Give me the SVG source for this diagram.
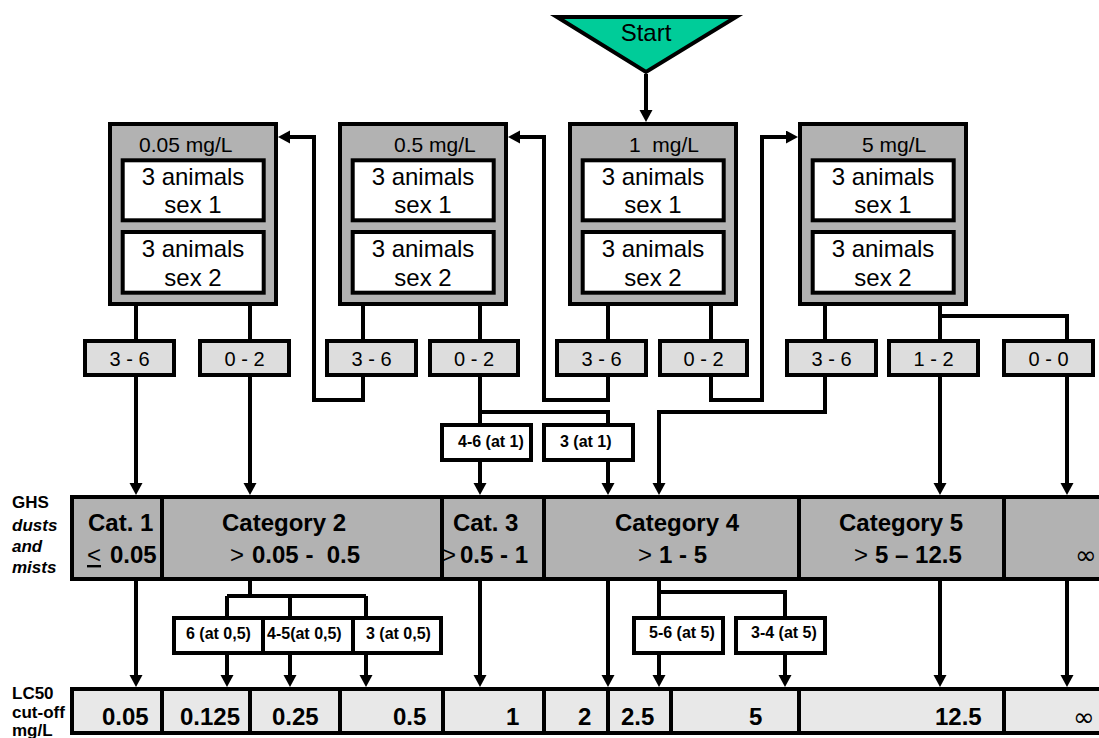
<svg xmlns="http://www.w3.org/2000/svg" width="1099" height="738" viewBox="0 0 1099 738">
<defs>
<marker id="ah" markerUnits="userSpaceOnUse" markerWidth="13" markerHeight="14" refX="1" refY="6.5" orient="auto" viewBox="0 0 13 14">
<path d="M0,0 L12,6.5 L0,13 z" fill="#000"/>
</marker>
<style>
text{font-family:"Liberation Sans",Arial,sans-serif;fill:#000}
.box{fill:#B2B2B2;stroke:#000;stroke-width:4}
.inner{fill:#fff;stroke:#000;stroke-width:4}
.mg{font-size:21px}
.an{font-size:24px;text-anchor:middle}
.score{fill:#DDDDDD;stroke:#000;stroke-width:4}
.st{font-size:20px;text-anchor:middle}
.res{fill:#fff;stroke:#000;stroke-width:4}
.rt{font-size:16px;font-weight:bold}
.ghs{fill:#B2B2B2;stroke:#000;stroke-width:4}
.lc{fill:#E8E8E8;stroke:#000;stroke-width:4}
.cat{font-size:24px;font-weight:bold}
.inf{font-family:"DejaVu Sans",sans-serif;font-size:26px;font-weight:normal}
.lbl{font-size:17px;font-weight:bold}
.it{font-style:italic}
.conn path{fill:none;stroke:#000;stroke-width:4}
.arr{marker-end:url(#ah)}
</style>
</defs>

<g id="start">
<polygon points="557,17 736,17 646,72" fill="#00CC99" stroke="#000" stroke-width="4"/>
<text x="646" y="41" font-size="24" text-anchor="middle">Start</text>
</g>

<g id="node-005" transform="translate(108,122)">
<rect class="box" x="2" y="2" width="166" height="180"/>
<rect class="inner" x="14.7" y="38.3" width="141" height="60"/>
<rect class="inner" x="14.7" y="110" width="141" height="60.7"/>
<text class="mg" x="31" y="30">0.05 mg/L</text>
<text class="an" x="85" y="63">3 animals</text>
<text class="an" x="85" y="91">sex 1</text>
<text class="an" x="85" y="135">3 animals</text>
<text class="an" x="85" y="164">sex 2</text>
</g>
<g id="node-05" transform="translate(338,122)">
<rect class="box" x="2" y="2" width="166" height="180"/>
<rect class="inner" x="14.7" y="38.3" width="141" height="60"/>
<rect class="inner" x="14.7" y="110" width="141" height="60.7"/>
<text class="mg" x="56" y="30">0.5 mg/L</text>
<text class="an" x="85" y="63">3 animals</text>
<text class="an" x="85" y="91">sex 1</text>
<text class="an" x="85" y="135">3 animals</text>
<text class="an" x="85" y="164">sex 2</text>
</g>
<g id="node-1" transform="translate(568,122)">
<rect class="box" x="2" y="2" width="166" height="180"/>
<rect class="inner" x="14.7" y="38.3" width="141" height="60"/>
<rect class="inner" x="14.7" y="110" width="141" height="60.7"/>
<text class="mg" x="61" y="30" xml:space="preserve">1  mg/L</text>
<text class="an" x="85" y="63">3 animals</text>
<text class="an" x="85" y="91">sex 1</text>
<text class="an" x="85" y="135">3 animals</text>
<text class="an" x="85" y="164">sex 2</text>
</g>
<g id="node-5" transform="translate(798,122)">
<rect class="box" x="2" y="2" width="166" height="180"/>
<rect class="inner" x="14.7" y="38.3" width="141" height="60"/>
<rect class="inner" x="14.7" y="110" width="141" height="60.7"/>
<text class="mg" x="64" y="30">5 mg/L</text>
<text class="an" x="85" y="63">3 animals</text>
<text class="an" x="85" y="91">sex 1</text>
<text class="an" x="85" y="135">3 animals</text>
<text class="an" x="85" y="164">sex 2</text>
</g>

<g id="scores">
<g id="s1"><rect class="score" x="85" y="341" width="89" height="34"/><text class="st" x="129.5" y="366">3 - 6</text></g>
<g id="s2"><rect class="score" x="200" y="341" width="89" height="34"/><text class="st" x="244.5" y="366">0 - 2</text></g>
<g id="s3"><rect class="score" x="327" y="341" width="89" height="34"/><text class="st" x="371.5" y="366">3 - 6</text></g>
<g id="s4"><rect class="score" x="430" y="341" width="88" height="34"/><text class="st" x="474" y="366">0 - 2</text></g>
<g id="s5"><rect class="score" x="557" y="341" width="89" height="34"/><text class="st" x="601.5" y="366">3 - 6</text></g>
<g id="s6"><rect class="score" x="660" y="341" width="87" height="34"/><text class="st" x="703.5" y="366">0 - 2</text></g>
<g id="s7"><rect class="score" x="787" y="341" width="89" height="34"/><text class="st" x="831.5" y="366">3 - 6</text></g>
<g id="s8"><rect class="score" x="889" y="341" width="89" height="34"/><text class="st" x="933.5" y="366">1 - 2</text></g>
<g id="s9"><rect class="score" x="1004" y="341" width="89" height="34"/><text class="st" x="1048.5" y="366">0 - 0</text></g>
</g>

<g id="res-at1">
<g id="r46at1"><rect class="res" x="442" y="425" width="89" height="35"/><text class="rt" x="458" y="447">4-6 (at 1)</text></g>
<g id="r3at1"><rect class="res" x="544" y="425" width="89" height="35"/><text class="rt" x="560" y="447">3 (at 1)</text></g>
</g>

<g id="ghs-row">
<rect class="ghs" x="72" y="497" width="1040" height="82"/>
<path d="M162,495V581M442,495V581M544,495V581M799,495V581M1004,495V581" stroke="#000" stroke-width="4"/>
<text class="cat" x="88" y="531">Cat. 1</text>
<text class="cat" x="87" y="563"><tspan font-weight="normal" text-decoration="underline">&lt;</tspan><tspan x="110">0.05</tspan></text>
<text class="cat" x="222" y="531">Category 2</text>
<text class="cat" x="230" y="563" xml:space="preserve"><tspan font-weight="normal">&gt;</tspan><tspan x="252">0.05 -  0.5</tspan></text>
<text class="cat" x="453" y="531">Cat. 3</text>
<text class="cat" x="442" y="563"><tspan font-weight="normal">&gt;</tspan><tspan x="460">0.5 - 1</tspan></text>
<text class="cat" x="615" y="531">Category 4</text>
<text class="cat" x="638" y="563"><tspan font-weight="normal">&gt;</tspan><tspan x="659">1 - 5</tspan></text>
<text class="cat" x="839" y="531">Category 5</text>
<text class="cat" x="854" y="563"><tspan font-weight="normal">&gt;</tspan><tspan x="875">5 – 12.5</tspan></text>
<text class="inf" x="1075" y="564">∞</text>
</g>

<g id="labels">
<text class="lbl" x="12" y="508">GHS</text>
<text class="lbl it" x="12" y="531">dusts</text>
<text class="lbl it" x="12" y="552">and</text>
<text class="lbl it" x="12" y="573">mists</text>
<text class="lbl" x="12" y="699">LC50</text>
<text class="lbl" x="12" y="718">cut-off</text>
<text class="lbl" x="12" y="736">mg/L</text>
</g>

<g id="res-at05">
<g id="r6"><rect class="res" x="174" y="618" width="89" height="35"/><text class="rt" x="186" y="639">6 (at 0,5)</text></g>
<g id="r45"><rect class="res" x="263" y="618" width="90" height="35"/><text class="rt" x="267" y="639">4-5(at 0,5)</text></g>
<g id="r3"><rect class="res" x="353" y="618" width="88" height="35"/><text class="rt" x="366" y="639">3 (at 0,5)</text></g>
</g>
<g id="res-at5">
<g id="r56"><rect class="res" x="634" y="618" width="89" height="35"/><text class="rt" x="649" y="638">5-6 (at 5)</text></g>
<g id="r34"><rect class="res" x="736" y="618" width="89" height="35"/><text class="rt" x="751" y="638">3-4 (at 5)</text></g>
</g>

<g id="lc50-row">
<rect class="lc" x="72" y="689" width="1040" height="44"/>
<path d="M162,687V735M250,687V735M340,687V735M443,687V735M544,687V735M608,687V735M671,687V735M799,687V735M1004,687V735" stroke="#000" stroke-width="4"/>
<text class="cat" x="102" y="725">0.05</text>
<text class="cat" x="180" y="725">0.125</text>
<text class="cat" x="272" y="725">0.25</text>
<text class="cat" x="393" y="725">0.5</text>
<text class="cat" x="506" y="725">1</text>
<text class="cat" x="578" y="725">2</text>
<text class="cat" x="621" y="725">2.5</text>
<text class="cat" x="749" y="725">5</text>
<text class="cat" x="935" y="725">12.5</text>
<text class="inf" x="1073" y="726">∞</text>
</g>

<g id="connectors" class="conn">
<path class="arr" d="M646,74V111"/>
<path d="M136,306V339M250,306V339M363,306V339M480,306V339M608,306V339M711,306V339M825,306V339M940,306V339M940,316H1067V339"/>
<path class="arr" d="M363,377V400H314V137H289"/>
<path class="arr" d="M608,377V400H544V137H519"/>
<path class="arr" d="M711,377V400H762V137H787"/>
<path d="M480,377V423M480,412H608V423"/>
<path class="arr" d="M136,377V484"/>
<path class="arr" d="M250,377V484"/>
<path class="arr" d="M480,462V484"/>
<path class="arr" d="M608,462V484"/>
<path class="arr" d="M825,377V412H659V484"/>
<path class="arr" d="M940,377V484"/>
<path class="arr" d="M1067,377V484"/>
<path class="arr" d="M136,581V676"/>
<path d="M250,581V596M227,596H366M227,596V616M290,596V616M366,596V616"/>
<path class="arr" d="M227,655V676"/>
<path class="arr" d="M290,655V676"/>
<path class="arr" d="M366,655V676"/>
<path class="arr" d="M480,581V676"/>
<path class="arr" d="M608,581V676"/>
<path d="M659,581V616M659,592H785V616"/>
<path class="arr" d="M659,655V676"/>
<path class="arr" d="M785,655V676"/>
<path class="arr" d="M940,581V676"/>
<path class="arr" d="M1067,581V676"/>
</g>
</svg>
